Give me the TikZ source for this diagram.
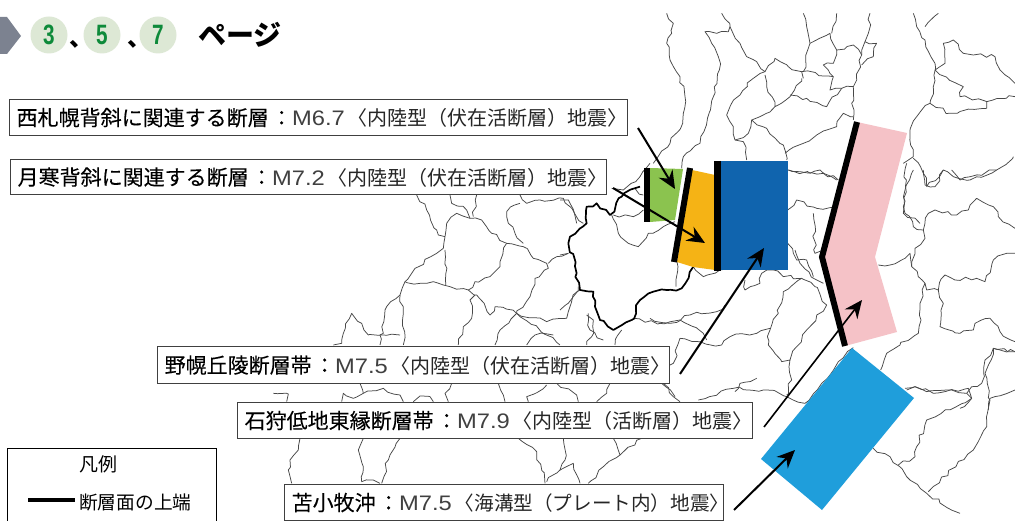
\documentclass[tikz,border=0pt]{standalone}
\usepackage{fontspec}
\setmainfont{Noto Sans CJK JP}
\newfontfamily\latinf{Liberation Sans}
\newfontfamily\strongjp[FakeBold=0.12]{Noto Sans CJK JP}
\usetikzlibrary{arrows.meta,decorations.pathmorphing}
\definecolor{mapline}{HTML}{484848}
\definecolor{fgreen}{HTML}{8BC34F}
\definecolor{forange}{HTML}{F5B315}
\definecolor{fblue}{HTML}{1064AE}
\definecolor{fpink}{HTML}{F5C2C7}
\definecolor{fcyan}{HTML}{1F9EDB}
\definecolor{pale}{HTML}{DDE8D5}
\definecolor{dgreen}{HTML}{0E8A3A}
\definecolor{grayp}{HTML}{7C8290}
\tikzset{
  bd/.style={draw=mapline,line width=.75pt,line join=round,decorate,decoration={random steps,segment length=6pt,amplitude=2pt}},
  bdthick/.style={bd,draw=black,line width=1.7pt},
  faultline/.style={draw=black,line width=6pt},
  lab/.style={draw=black!75,line width=1.3pt,fill=white,anchor=north west,inner sep=0pt},
  ptr/.style={draw=black,line width=2pt,-{Stealth[length=18pt,width=16pt,inset=6pt]}},
  num/.style={circle,fill=pale,minimum size=37pt,inner sep=0pt},
}
\newcommand{\bl}[1]{\draw[bd] plot coordinates {#1};}
\newcommand{\numd}[1]{\textcolor{dgreen}{\latinf\bfseries\fontsize{28}{28}\selectfont\scalebox{.74}[1]{#1}}}
\newcommand{\labt}[4][20]{\mbox{{\strongjp\fontsize{21}{24}\selectfont #2\kern2.5pt：}{\latinf\color{black!75}\fontsize{21}{24}\selectfont\scalebox{1.13}[1]{#3}}\kern3pt{\color{black!85}\fontsize{#1}{24}\selectfont 〈#4〉}}}
\begin{document}
\begin{tikzpicture}[x=1pt,y=-1pt]
\useasboundingbox (0,0) rectangle (1015,521);
\clip (0,0) rectangle (1015,521);
\fill[white] (0,0) rectangle (1015,521);

% --- map, traced from crop coordinates
\begin{scope}[shift={(620,0)},scale=.33333]
\bl{(140,40)(160,70)(155,100)(140,130)(150,180)(180,230)(195,290)(188,370)(150,430)(100,490)}
\bl{(305,40)(330,80)(325,95)(290,100)(255,95)(275,130)(295,170)(298,210)(280,290)(240,430)(190,470)(185,505)}
\bl{(330,80)(360,130)(380,170)(410,185)(435,215)(465,175)(505,200)(545,215)(550,235)}
\bl{(435,215)(400,235)(360,285)(330,320)(320,345)(340,380)(345,420)(370,425)(380,480)}
\bl{(435,225)(440,260)(465,320)(510,290)(545,235)}
\bl{(465,320)(420,350)(395,360)(440,385)(490,435)(500,480)}
\bl{(395,360)(385,400)(345,420)}
\bl{(510,285)(560,295)(620,320)(665,265)(700,260)}
\bl{(545,215)(610,228)(640,230)(630,270)(665,265)}
\bl{(550,40)(560,80)(570,130)(550,215)}
\bl{(570,130)(630,100)(650,150)(640,190)(610,195)(640,230)}
\bl{(650,150)(700,135)(725,165)(710,240)(700,260)(695,310)(700,360)}
\bl{(725,165)(735,125)(770,130)(760,170)(725,195)}
\bl{(750,40)(745,100)(735,125)}
\bl{(650,40)(635,100)}
\bl{(495,460)(550,430)(590,405)(650,380)(670,340)(700,350)}
\bl{(505,510)(570,520)(600,510)(650,540)}
\bl{(880,40)(890,80)(915,120)(945,190)(940,260)(930,310)(890,350)(870,400)(880,470)(850,490)}
\bl{(945,210)(1030,260)(1020,290)(1100,305)(1185,290)}
\bl{(930,310)(990,340)(1100,325)(1100,305)}
\bl{(945,210)(975,190)(970,130)(1000,120)(1030,160)(1060,165)(1125,170)(1140,210)(1185,250)}
\bl{(880,475)(910,520)(920,560)(970,510)(1000,530)(1050,540)(1130,510)(1180,470)}
\bl{(955,40)(915,80)}
\end{scope}
\begin{scope}[shift={(860,170)},scale=.33333]
\bl{(160,0)(135,60)(130,110)(160,170)(190,180)(195,205)(165,235)(155,290)(195,340)(200,360)(235,360)(255,315)(285,330)(350,325)(375,335)(400,270)(440,250)(465,250)}
\bl{(190,180)(205,130)(225,120)(290,135)(325,120)(350,85)(400,110)(415,140)(465,175)}
\bl{(55,285)(90,285)(135,265)(150,250)(155,290)}
\bl{(190,0)(195,45)(225,50)(250,0)}
\bl{(275,0)(300,30)(410,0)}
\bl{(195,340)(180,400)(175,490)(120,525)(80,550)(62,600)}
\bl{(235,360)(250,400)(240,470)(300,490)(340,480)(345,460)(390,445)(420,485)(465,515)}
\bl{(140,660)(165,650)(200,665)(260,660)(320,670)(335,650)(365,640)(375,570)(400,535)(465,545)}
\bl{(320,670)(335,685)(300,715)}
\bl{(385,720)(390,685)(465,660)}
\end{scope}
\begin{scope}[shift={(640,300)},scale=.33333]
\bl{(795,265)(825,260)(880,280)(985,265)(995,295)(860,360)(830,440)(825,470)(775,495)}
\bl{(1125,155)(1060,145)(1035,220)(1050,300)(1040,380)(1000,450)(865,575)}
\bl{(700,445)(750,470)(800,530)(860,580)(960,640)}
\bl{(175,300)(280,265)(380,270)(440,290)(495,310)}
\bl{(285,275)(300,250)(350,235)}
\bl{(65,250)(105,290)}
\bl{(495,310)(545,250)(595,185)(640,143)}
\end{scope}
\begin{scope}[shift={(650,250)},scale=.33333]
\bl{(0,205)(60,220)(120,195)(200,185)(225,165)}
\bl{(90,265)(70,340)(60,345)}
\bl{(90,265)(150,275)(215,285)(240,260)(320,250)(360,235)}
\bl{(285,90)(285,120)(330,100)(335,70)(370,60)(400,80)(455,85)(400,125)(385,190)(360,240)(355,285)(395,335)(420,330)(425,390)(410,435)}
\bl{(530,165)(470,240)(440,290)(420,330)}
\bl{(530,165)(495,110)(455,85)}
\bl{(435,0)(450,40)(500,90)(520,100)}
\bl{(80,30)(78,110)}
\end{scope}
\begin{scope}[shift={(560,100)},scale=.33333]
\bl{(270,190)(240,230)(190,270)(155,265)}
\bl{(155,345)(175,400)(205,430)(235,440)(265,400)(310,380)(345,365)}
\bl{(160,345)(220,350)(250,330)}
\bl{(225,265)(250,285)}
\bl{(0,300)(25,300)(50,370)}
\bl{(0,465)(25,460)}
\bl{(0,630)(40,590)(60,570)}
\bl{(85,640)(90,690)(130,720)}
\bl{(220,655)(300,670)(360,660)(430,700)(440,720)}
\bl{(400,500)(430,530)(510,505)}
\bl{(683,430)(700,460)(710,480)(740,480)(760,530)}
\bl{(683,330)(710,300)(770,325)(830,320)}
\bl{(685,210)(720,215)(790,220)(835,240)}
\bl{(760,340)(765,460)(790,450)}
\bl{(1040,190)(1030,340)(1080,370)}
\draw[bdthick] plot coordinates {(400,500)(365,565)(320,570)(280,575)(240,600)(215,660)(160,690)(120,660)(105,620)(100,575)(60,570)(50,520)(25,430)(30,410)(80,370)(80,320)(110,310)(150,345)(185,290)(240,260)};
\end{scope}
\begin{scope}[shift={(300,190)},scale=.33333]
\bl{(350,15)(380,60)(410,120)(415,135)(435,140)(430,175)(410,190)(345,235)(315,275)(300,315)(255,360)(250,430)(205,435)(185,400)(155,370)(130,430)(125,460)(100,465)}
\bl{(435,140)(440,100)(470,70)(510,85)(545,90)(575,130)(620,160)(670,170)(700,205)(740,220)(745,235)(705,265)(690,320)(650,370)(600,420)(585,465)}
\bl{(620,160)(600,230)(570,260)(525,275)(505,300)(450,290)(430,285)(400,275)(380,280)(315,275)}
\bl{(435,180)(437,285)}
\bl{(505,300)(530,315)(570,375)(585,350)(650,370)(740,395)(800,385)(810,350)(835,290)}
\bl{(745,220)(770,200)(805,190)}
\bl{(850,100)(810,50)(790,25)(720,30)(680,40)(660,15)}
\bl{(660,40)(620,65)(625,100)(670,160)}
\bl{(530,15)(520,80)}
\bl{(450,15)(455,40)(500,60)(510,85)}
\bl{(650,370)(780,465)}
\bl{(300,315)(310,370)(310,465)}
\bl{(240,435)(300,435)}
\bl{(240,435)(240,465)}
\bl{(525,315)(510,330)(515,385)(490,410)(475,465)}
\bl{(860,375)(880,390)(875,440)(860,465)}
\bl{(965,420)(945,465)}
\bl{(680,465)(705,435)(760,435)}
\end{scope}
\begin{scope}[shift={(260,370)},scale=.33333]
\bl{(40,70)(85,72)(80,95)}
\bl{(300,40)(310,70)(280,85)(250,70)(245,95)}
\bl{(310,70)(370,55)(420,75)(430,95)}
\bl{(460,95)(480,78)(510,80)(520,95)}
\bl{(575,40)(555,70)(565,95)}
\bl{(715,40)(730,75)(735,95)}
\bl{(805,95)(800,80)(860,45)}
\bl{(890,40)(950,75)(955,95)}
\bl{(1050,40)(1040,70)(1010,95)}
\bl{(1210,40)(1240,80)(1260,95)}
\bl{(120,205)(115,240)(90,270)(85,300)(95,340)}
\bl{(310,205)(295,240)(310,290)(305,335)(340,330)(360,340)}
\bl{(420,205)(385,270)(365,340)}
\bl{(775,205)(830,245)(855,340)}
\bl{(910,205)(915,270)(900,300)(860,335)}
\bl{(900,300)(940,280)(960,340)}
\bl{(1060,205)(1080,255)(1145,205)}
\bl{(1080,255)(1030,290)(985,340)}
\end{scope}

% --- fault zones
\fill[fgreen] (650,168)--(683,169)--(675,220)--(650,222)--cycle;
\fill[forange] (692,170)--(715,175)--(715,270)--(693,267)--(677,262)--cycle;
\fill[fblue] (720,161) rectangle (788,270);
\fill[fpink] (857,122)--(907,133)--(875,257)--(897,332)--(845,346)--(822,257)--cycle;
\fill[fcyan] (852,348)--(914,398)--(822,510)--(761,459)--cycle;
\draw[faultline] (647,168)--(647,222);
\draw[faultline] (690,168)--(674,262);
\draw[faultline,line width=7pt] (717,161)--(717,271);
\draw[faultline,line join=miter] (857,122)--(822,257)--(845,346);

% --- heading
\fill[grayp] (0,17)--(7,17)--(21,36)--(7,54)--(0,54)--cycle;
\node[num] (n3) at (49,35) {\numd{3}};
\node[num] (n5) at (102,35) {\numd{5}};
\node[num] (n7) at (158,35) {\numd{7}};
\node[font=\fontsize{24}{24}\selectfont\bfseries] (c1) at (81,44) {、};
\node[font=\fontsize{24}{24}\selectfont\bfseries] (c2) at (139,44) {、};
\node[anchor=west,inner sep=0pt,font=\fontsize{28}{28}\selectfont\bfseries] (pg) at (198,35) {ページ};

% --- labels
\node[lab,minimum width=618pt,minimum height=36pt,text width=604pt,align=left] (l1) at (9,99) {\labt{西札幌背斜に関連する断層}{M6.7}{内陸型（伏在活断層）地震}};
\node[lab,minimum width=596pt,minimum height=35pt,text width=582pt,align=left] (l2) at (10,159) {\labt{月寒背斜に関連する断層}{M7.2}{内陸型（伏在活断層）地震}};
\node[lab,minimum width=512pt,minimum height=37pt,text width=498pt,align=left] (l3) at (157,346) {\labt{野幌丘陵断層帯}{M7.5}{内陸型（伏在活断層）地震}};
\node[lab,minimum width=515pt,minimum height=36pt,text width=501pt,align=left] (l4) at (237,402) {\labt{石狩低地東縁断層帯}{M7.9}{内陸型（活断層）地震}};
\node[lab,minimum width=439pt,minimum height=36pt,text width=425pt,align=left] (l5) at (284,484) {\labt[19.6]{苫小牧沖}{M7.5}{海溝型（プレート内）地震}};

% --- pointers
\coordinate (p1s) at (638,128); \coordinate (p1e) at (675,189);
\coordinate (p2s) at (613,188); \coordinate (p2e) at (705,243);
\coordinate (p3s) at (680,374); \coordinate (p3e) at (764,248);
\coordinate (p4s) at (764,427); \coordinate (p4e) at (862,300);
\coordinate (p5s) at (734,510); \coordinate (p5e) at (795,450);
\draw[ptr] (p1s)--(p1e);
\draw[ptr] (p2s)--(p2e);
\draw[ptr] (p3s)--(p3e);
\draw[ptr,line width=1.6pt] (p4s)--(p4e);
\draw[ptr] (p5s)--(p5e);

% --- legend
\node[draw=black,line width=1.3pt,fill=white,anchor=north west,minimum width=209pt,minimum height=90pt,inner sep=0pt] (lg) at (7,448) {};
\node[font=\fontsize{19}{20}\selectfont,inner sep=0pt] (lgt) at (98,464) {凡例};
\coordinate (ls) at (28,500); \coordinate (le) at (75,500);
\draw[draw=black,line width=4pt] (ls)--(le);
\node[anchor=west,font=\fontsize{18.7}{20}\selectfont,inner sep=0pt] (lgl) at (79,502) {断層面の上端};
\end{tikzpicture}
\end{document}
